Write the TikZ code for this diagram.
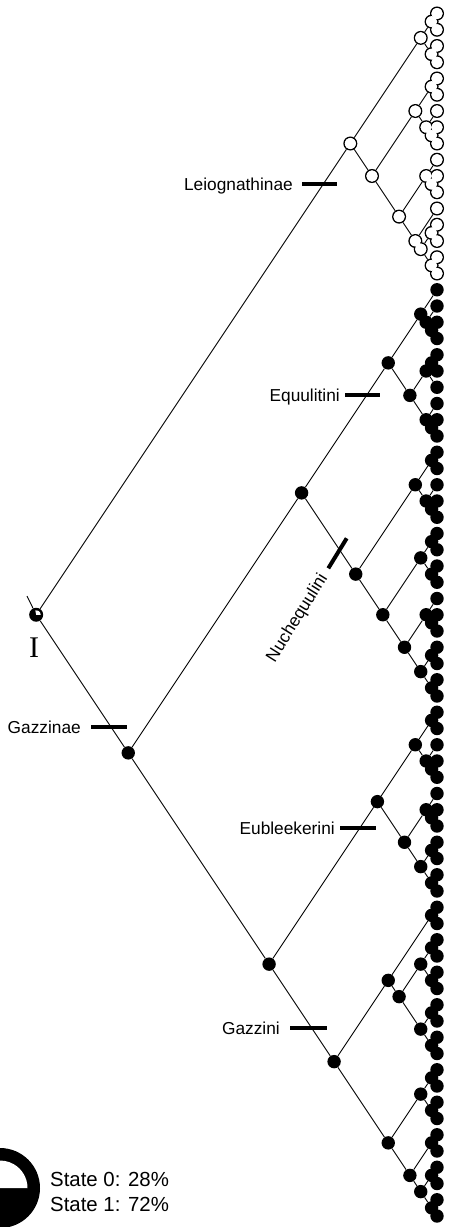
\documentclass[tikz,border=0pt]{standalone}
\usepackage{fontspec}
\setmainfont{Liberation Sans}
\newfontfamily\serifI{Liberation Serif}
\pgfdeclarelayer{bg}\pgfdeclarelayer{fg}\pgfsetlayers{bg,main,fg}
\def\tipx{437}\def\tipz{13.5}\def\tips{16.25}
\newcommand\setxy[2]{\pgfmathsetmacro\nodey{-(\tipz+\tips*(#1+#2)/2)}\pgfmathsetmacro\nodex{\tipx-\tips*(#2-#1)/3}}
\newcommand\WN[4]{\setxy{#3}{#4}\node[wdot] (#2) at (\nodex pt,\nodey pt) {};%
  \begin{pgfonlayer}{bg}\draw[edge] (#1) -- (#2);\end{pgfonlayer}%
  \begin{pgfonlayer}{fg}\fill[white] (#2.center) circle (5.6pt);\end{pgfonlayer}}
\newcommand\BN[4]{\setxy{#3}{#4}\node[bdot] (#2) at (\nodex pt,\nodey pt) {};%
  \begin{pgfonlayer}{bg}\draw[edge] (#1) -- (#2);\end{pgfonlayer}}
\newcommand\WT[2]{\WN{#1}{t#2}{#2}{#2}}
\newcommand\BT[2]{\BN{#1}{t#2}{#2}{#2}}
\tikzset{
  edge/.style={line width=0.9pt},
  wdot/.style={circle,draw,line width=1.4pt,fill=white,minimum size=12.6pt,inner sep=0pt},
  bdot/.style={circle,fill=black,minimum size=13.4pt,inner sep=0pt},
  bar/.style={line width=4pt},
  lab/.style={font=\fontsize{17.3}{20}\selectfont,inner sep=0pt}
}
\begin{document}
\begin{tikzpicture}
\useasboundingbox (0,0) rectangle (449pt,-1227pt);
% root
\setxy{0}{74}
\node[circle,fill=black,minimum size=14pt,inner sep=0pt] (R) at (\nodex pt,\nodey pt) {};
\fill[white] (R.center) -- ++(4.5pt,0) arc[start angle=0,end angle=100.8,radius=4.5pt] -- cycle;
\coordinate (stem) at (27pt,-596pt);
\begin{pgfonlayer}{bg}\draw[edge] (R) -- (stem);\end{pgfonlayer}
\node[font=\serifI\fontsize{30}{30}\selectfont,inner sep=0pt] (lblI) at (34pt,-647.5pt) {I};
% Leiognathinae
\WN{R}{L}{0}{16}
\WN{L}{L1}{0}{3}
 \WN{L1}{L1a}{0}{1}\WT{L1a}{0}\WT{L1a}{1}
 \WN{L1}{L1b}{2}{3}\WT{L1b}{2}\WT{L1b}{3}
\WN{L}{L2}{4}{16}
 \WN{L2}{L21}{4}{8}
  \WN{L21}{L21a}{4}{5}\WT{L21a}{4}\WT{L21a}{5}
  \WN{L21}{L21b}{6}{8}\WT{L21b}{6}\WN{L21b}{L21c}{7}{8}\WT{L21c}{7}\WT{L21c}{8}
 \WN{L2}{L22}{9}{16}
  \WN{L22}{L221}{9}{11}\WT{L221}{9}\WN{L221}{L221a}{10}{11}\WT{L221a}{10}\WT{L221a}{11}
  \WN{L22}{L222}{12}{16}\WT{L222}{12}
   \WN{L222}{L222a}{13}{16}
   \WN{L222a}{L222b}{13}{14}\WT{L222b}{13}\WT{L222b}{14}
   \WN{L222a}{L222c}{15}{16}\WT{L222c}{15}\WT{L222c}{16}
% Gazzinae
\BN{R}{G}{17}{74}
\BN{G}{EN}{17}{42}
 \BN{EN}{E}{17}{26}
  \BN{E}{E1}{17}{20}\BT{E1}{17}\BN{E1}{E1a}{18}{20}\BT{E1a}{18}\BN{E1a}{E1b}{19}{20}\BT{E1b}{19}\BT{E1b}{20}
  \BN{E}{E2}{21}{26}
   \BN{E2}{E2a}{21}{23}\BN{E2a}{E2b}{21}{22}\BT{E2b}{21}\BT{E2b}{22}\BT{E2a}{23}
   \BN{E2}{E2c}{24}{26}\BT{E2c}{24}\BN{E2c}{E2d}{25}{26}\BT{E2d}{25}\BT{E2d}{26}
 \BN{EN}{Nq}{27}{42}
  \BN{Nq}{N1}{27}{31}\BN{N1}{N1a}{27}{28}\BT{N1a}{27}\BT{N1a}{28}
   \BN{N1}{N1b}{29}{31}\BT{N1b}{29}\BN{N1b}{N1c}{30}{31}\BT{N1c}{30}\BT{N1c}{31}
  \BN{Nq}{N2}{32}{42}
   \BN{N2}{N21}{32}{35}\BN{N21}{N21a}{32}{33}\BT{N21a}{32}\BT{N21a}{33}
    \BN{N21}{N21b}{34}{35}\BT{N21b}{34}\BT{N21b}{35}
   \BN{N2}{N22}{36}{42}
    \BN{N22}{N221}{36}{38}\BT{N221}{36}\BN{N221}{N221a}{37}{38}\BT{N221a}{37}\BT{N221a}{38}
    \BN{N22}{N222}{39}{42}\BN{N222}{N222a}{39}{40}\BT{N222a}{39}\BT{N222a}{40}
     \BN{N222}{N222b}{41}{42}\BT{N222b}{41}\BT{N222b}{42}
\BN{G}{EG}{43}{74}
 \BN{EG}{Eb}{43}{54}
  \BN{Eb}{Eb1}{43}{47}\BN{Eb1}{Eb1a}{43}{44}\BT{Eb1a}{43}\BT{Eb1a}{44}
   \BN{Eb1}{Eb1b}{45}{47}\BT{Eb1b}{45}\BN{Eb1b}{Eb1c}{46}{47}\BT{Eb1c}{46}\BT{Eb1c}{47}
  \BN{Eb}{Eb2}{48}{54}
   \BN{Eb2}{Eb21}{48}{50}\BT{Eb21}{48}\BN{Eb21}{Eb21a}{49}{50}\BT{Eb21a}{49}\BT{Eb21a}{50}
   \BN{Eb2}{Eb22}{51}{54}\BN{Eb22}{Eb22a}{51}{52}\BT{Eb22a}{51}\BT{Eb22a}{52}
    \BN{Eb22}{Eb22b}{53}{54}\BT{Eb22b}{53}\BT{Eb22b}{54}
 \BN{EG}{Gz}{55}{74}
  \BN{Gz}{Gz1}{55}{64}
   \BN{Gz1}{Gz1a}{55}{56}\BT{Gz1a}{55}\BT{Gz1a}{56}
   \BN{Gz1}{Gz1b}{57}{64}
    \BN{Gz1b}{Gz1c}{57}{60}\BN{Gz1c}{Gz1d}{57}{58}\BT{Gz1d}{57}\BT{Gz1d}{58}
     \BN{Gz1c}{Gz1e}{59}{60}\BT{Gz1e}{59}\BT{Gz1e}{60}
    \BN{Gz1b}{Gz1f}{61}{64}\BN{Gz1f}{Gz1g}{61}{62}\BT{Gz1g}{61}\BT{Gz1g}{62}
     \BN{Gz1f}{Gz1h}{63}{64}\BT{Gz1h}{63}\BT{Gz1h}{64}
  \BN{Gz}{Gz2}{65}{74}
   \BN{Gz2}{Gz2a}{65}{68}\BN{Gz2a}{Gz2b}{65}{66}\BT{Gz2b}{65}\BT{Gz2b}{66}
    \BN{Gz2a}{Gz2c}{67}{68}\BT{Gz2c}{67}\BT{Gz2c}{68}
   \BN{Gz2}{Gz2d}{69}{74}
    \BN{Gz2d}{Gz2e}{69}{70}\BT{Gz2e}{69}\BT{Gz2e}{70}
    \BN{Gz2d}{Gz2f}{71}{74}\BN{Gz2f}{Gz2g}{71}{72}\BT{Gz2g}{71}\BT{Gz2g}{72}
     \BN{Gz2f}{Gz2h}{73}{74}\BT{Gz2h}{73}\BT{Gz2h}{74}
% clade labels
\node[lab,anchor=base east] (lLeio) at (293pt,-190.2pt) {Leiognathinae};
\draw[bar] (302pt,-184pt) -- (337pt,-184pt);
\node[lab,anchor=base east] (lEqu) at (340pt,-401.2pt) {Equulitini};
\draw[bar] (345pt,-395pt) -- (380pt,-395pt);
\node[lab,anchor=base east,rotate=58] (lNuc) at (328pt,-578pt) {Nuchequulini};
\draw[bar] (328.3pt,-568.3pt) -- (346.7pt,-538.3pt);
\node[lab,anchor=base east] (lGae) at (81pt,-733.2pt) {Gazzinae};
\draw[bar] (91pt,-727pt) -- (127pt,-727pt);
\node[lab,anchor=base east] (lEub) at (335pt,-834.2pt) {Eubleekerini};
\draw[bar] (340pt,-828pt) -- (376pt,-828pt);
\node[lab,anchor=base east] (lGaz) at (280pt,-1034.2pt) {Gazzini};
\draw[bar] (290pt,-1028pt) -- (327pt,-1028pt);
% legend
\node[circle,fill=black,minimum size=80pt,inner sep=0pt] (leg) at (0pt,-1188pt) {};
\fill[white] (leg.center) -- ++(27.5pt,0) arc[start angle=0,end angle=100.8,radius=27.5pt] -- cycle;
\node[anchor=base west,font=\fontsize{20.4}{24}\selectfont,inner sep=0pt] (s0) at (50pt,-1186pt) {State 0: 28\%};
\node[anchor=base west,font=\fontsize{20.4}{24}\selectfont,inner sep=0pt] (s1) at (50pt,-1211pt) {State 1: 72\%};
\end{tikzpicture}
\end{document}
